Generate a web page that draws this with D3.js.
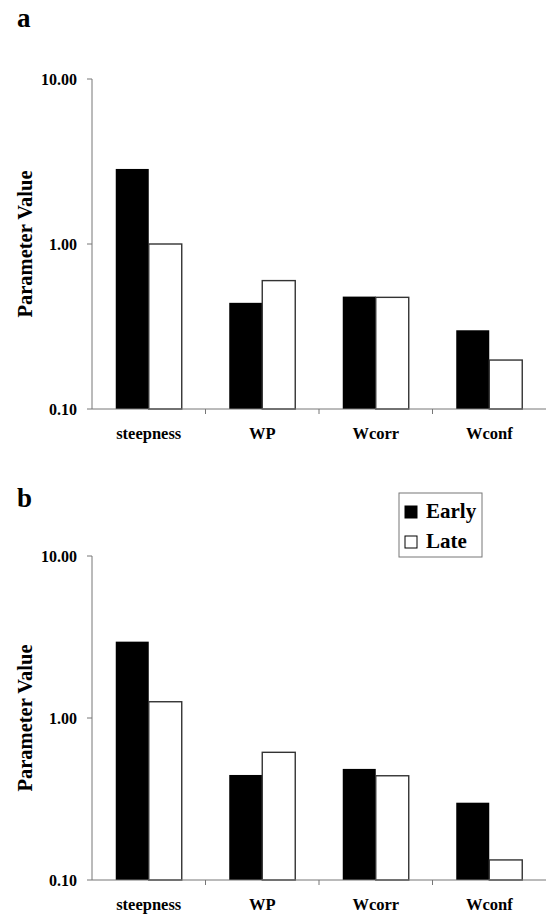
<!DOCTYPE html>
<html>
<head>
<meta charset="utf-8">
<script src="https://cdn.jsdelivr.net/npm/d3@7"></script>
<style>
  body { margin: 0; background: #fff; }
  svg { display: block; }
</style>
</head>
<body>
<div id="chart"></div>
<script>
// parameters on the x axis
const categories = ['steepness', 'WP', 'Wcorr', 'Wconf'];
const seriesNames = ['Early', 'Late'];
const yTicks = [0.1, 1, 10];

// panel a
const earlyA = [2.85, 0.44, 0.48, 0.30];
const lateA = [1.00, 0.60, 0.475, 0.198];

// panel b
const earlyB = [2.96, 0.445, 0.485, 0.30];
const lateB = [1.26, 0.614, 0.44, 0.133];

const width = 546, height = 915;
const left = 92, right = 546;
const font = 'Liberation Serif';

const svg = d3.select('#chart')
    .append('svg')
    .attr('width', width)
    .attr('height', height)
    .attr('font-family', font)
    .attr('font-weight', 'bold');

const xScale = d3.scaleBand().domain(categories).range([left, right]).padding(0);
const xSub = d3.scaleBand().domain(seriesNames)
    .range([0, xScale.bandwidth()])
    .paddingInner(0).paddingOuter(0.72);

const label = (sel) => sel
    .attr('font-family', font)
    .attr('font-weight', 'bold')
    .attr('fill', '#000');

const drawPanel = (letter, letterY, top, bottom, early, late) => {
    const yScale = d3.scaleLog().domain([0.1, 10]).range([bottom, top]);
    const g = svg.append('g');

    g.append('text')
        .call(label)
        .attr('x', 17)
        .attr('y', letterY)
        .attr('font-size', 27)
        .text(letter);

    // y axis
    g.append('line')
        .attr('x1', left).attr('x2', left)
        .attr('y1', top).attr('y2', bottom)
        .attr('stroke', '#777').attr('stroke-width', 1);
    g.selectAll('.ytick')
        .data(yTicks).enter()
        .append('line')
        .attr('x1', left - 5).attr('x2', left)
        .attr('y1', d => yScale(d)).attr('y2', d => yScale(d))
        .attr('stroke', '#777');
    g.selectAll('.ylabel')
        .data(yTicks).enter()
        .append('text')
        .call(label)
        .attr('x', left - 15)
        .attr('y', d => yScale(d))
        .attr('dy', '0.35em')
        .attr('text-anchor', 'end')
        .attr('font-size', 16)
        .text(d => d3.format('.2f')(d));

    g.append('text')
        .call(label)
        .attr('transform', `translate(32, ${(top + bottom) / 2}) rotate(-90)`)
        .attr('text-anchor', 'middle')
        .attr('font-size', 20.5)
        .text('Parameter Value');

    // bars
    const rows = categories.map((c, i) => ({ cat: c, values: [early[i], late[i]] }));
    const groups = g.selectAll('.grp')
        .data(rows).enter()
        .append('g')
        .attr('transform', d => `translate(${xScale(d.cat)}, 0)`);
    groups.selectAll('rect')
        .data(d => d.values.map((v, j) => ({ name: seriesNames[j], value: v })))
        .enter()
        .append('rect')
        .attr('x', d => xSub(d.name))
        .attr('y', d => yScale(d.value))
        .attr('width', xSub.bandwidth())
        .attr('height', d => bottom - yScale(d.value))
        .attr('fill', d => d.name === 'Early' ? '#000' : '#fff')
        .attr('stroke', d => d.name === 'Early' ? '#000' : '#333')
        .attr('stroke-width', d => d.name === 'Early' ? 0 : 1.4);

    // x axis
    g.append('line')
        .attr('x1', left).attr('x2', right)
        .attr('y1', bottom).attr('y2', bottom)
        .attr('stroke', '#777');
    g.selectAll('.xtick')
        .data(categories.slice(1)).enter()
        .append('line')
        .attr('x1', d => xScale(d)).attr('x2', d => xScale(d))
        .attr('y1', bottom).attr('y2', bottom + 5)
        .attr('stroke', '#777');
    g.selectAll('.xlabel')
        .data(categories).enter()
        .append('text')
        .call(label)
        .attr('x', d => xScale(d) + xScale.bandwidth() / 2)
        .attr('y', bottom + 30)
        .attr('text-anchor', 'middle')
        .attr('font-size', 16.5)
        .text(d => d);
};

drawPanel('a', 27, 79, 409, earlyA, lateA);
drawPanel('b', 507, 556, 880, earlyB, lateB);

// legend
const legend = svg.append('g').attr('transform', 'translate(399, 493)');
legend.append('rect')
    .attr('width', 83).attr('height', 64)
    .attr('fill', '#fff').attr('stroke', '#777').attr('stroke-width', 1);
const items = legend.selectAll('.item')
    .data(seriesNames).enter()
    .append('g')
    .attr('transform', (d, i) => `translate(6, ${13 + i * 30})`);
items.append('rect')
    .attr('width', 12).attr('height', 12)
    .attr('fill', d => d === 'Early' ? '#000' : '#fff')
    .attr('stroke', '#000').attr('stroke-width', 1);
items.append('text')
    .call(label)
    .attr('x', 21).attr('y', 12)
    .attr('font-size', 21)
    .text(d => d);
</script>
</body>
</html>
